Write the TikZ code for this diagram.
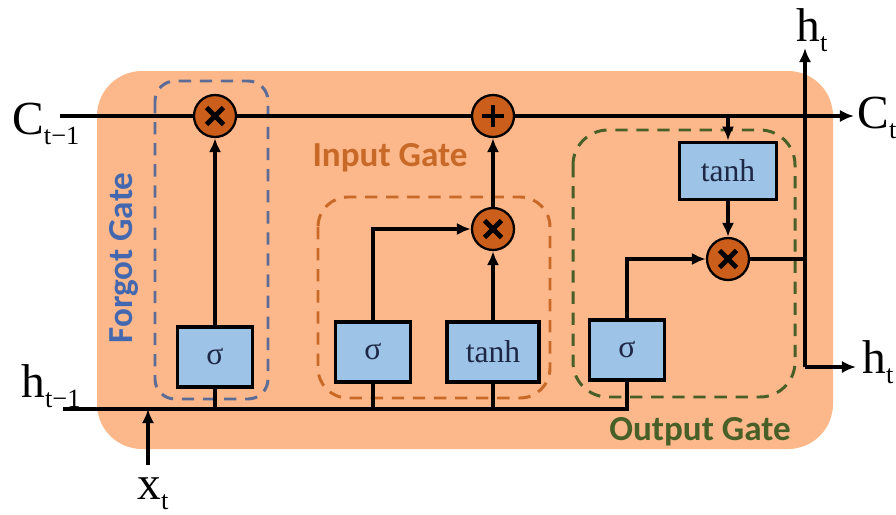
\documentclass[tikz,border=0pt]{standalone}
\usepackage{fontspec}
\setmainfont{Liberation Serif}
\newfontfamily\gatefont{Carlito}
\usetikzlibrary{arrows.meta}
\definecolor{bgorange}{RGB}{252,184,138}
\definecolor{opfill}{RGB}{202,94,26}
\definecolor{boxblue}{RGB}{157,195,230}
\definecolor{boxtext}{RGB}{30,40,70}
\definecolor{fgblue}{RGB}{68,104,176}
\definecolor{fgdash}{RGB}{92,108,150}
\definecolor{ingate}{RGB}{200,105,40}
\definecolor{outgate}{RGB}{72,96,40}
\newcommand{\lbl}[2]{#1\raisebox{-0.22em}{\fontsize{15}{15}\selectfont #2}}
\begin{document}
\begin{tikzpicture}[x=0.02cm,y=-0.02cm,
  conn/.style={line width=2pt, black},
  arr/.style={conn, -{Latex[length=8pt,width=7pt]}},
  gatebox/.style={draw=black, line width=2.2pt, fill=boxblue, text=boxtext,
    minimum width=1.5cm, minimum height=1.2cm, inner sep=0pt,
    font=\fontsize{18}{18}\selectfont},
  opcircle/.style={circle, draw=black, line width=1.3pt, fill=opfill,
    minimum size=0.84cm, inner sep=0pt},
  mult/.style={opcircle, path picture={
    \draw[line width=2.8pt, black] (path picture bounding box.center) ++(-0.17cm,-0.17cm) -- ++(0.34cm,0.34cm);
    \draw[line width=2.8pt, black] (path picture bounding box.center) ++(-0.17cm,0.17cm) -- ++(0.34cm,-0.34cm);}},
  addop/.style={opcircle, path picture={
    \draw[line width=2.8pt, black] (path picture bounding box.center) ++(-0.22cm,0) -- ++(0.44cm,0);
    \draw[line width=2.8pt, black] (path picture bounding box.center) ++(0,-0.22cm) -- ++(0,0.44cm);}},
  gatedash/.style={dashed, line width=1.7pt, dash pattern=on 7pt off 5pt},
  biglabel/.style={font=\fontsize{27}{27}\selectfont, inner sep=0pt, anchor=base west},
  gatelabel/.style={font=\gatefont\bfseries\fontsize{20}{20}\selectfont, inner sep=0pt}
]
\useasboundingbox[fill=white] (0,0) rectangle (896,514);
% cell background
\fill[bgorange, rounded corners=0.9cm] (97,71) rectangle (833,449);
% gate frames
\draw[gatedash, fgdash, rounded corners=0.4cm] (155,81) rectangle (268,399);
\draw[gatedash, ingate, rounded corners=0.6cm] (318,197) rectangle (550,398);
\draw[gatedash, outgate, rounded corners=0.7cm] (573,130) rectangle (795,397);
% gate labels
\node[gatelabel, text=fgblue, rotate=90] (fglbl) at (124,258) {Forgot Gate};
\node[gatelabel, text=ingate] (iglbl) at (390,158) {Input Gate};
\node[gatelabel, text=outgate] (oglbl) at (700,432) {Output Gate};
% boxes
\node[gatebox] (fs) at (215,357) {σ};
\node[gatebox] (is) at (373,352) {σ};
\node[gatebox, minimum width=1.84cm] (it) at (493,352) {tanh};
\node[gatebox, minimum width=1.94cm, minimum height=1.14cm] (ot) at (728,171) {tanh};
\node[gatebox] (os) at (627,350) {σ};
% operators
\node[mult] (fx) at (215,116) {};
\node[addop] (plus) at (493,116) {};
\node[mult] (ix) at (493,229) {};
\node[mult] (ox) at (728,259) {};
% coordinates
\coordinate (cin) at (60,116);
\coordinate (cout) at (854,116);
\coordinate (ctap) at (728,116);
\coordinate (hin) at (63,409);
\coordinate (hend) at (627,409);
\coordinate (xbot) at (148,465);
\coordinate (xtop) at (148,409);
\coordinate (hv) at (805,259);
\coordinate (htop) at (805,48);
\coordinate (hcorner) at (805,367);
\coordinate (hright) at (856,367);
% cell state line
\draw[conn] (cin) -- (fx.west);
\draw[conn] (fx.east) -- (plus.west);
\draw[arr] (plus.east) -- (cout);
\draw[arr] (ctap) -- (ot.north);
% hidden input line
\draw[conn] (hin) -- (hend) -- (os.south);
\draw[arr] (xbot) -- (xtop);
% forget gate
\draw[conn] (fs.south |- hin) -- (fs.south);
\draw[arr] (fs.north) -- (fx.south);
% input gate
\draw[conn] (is.south |- hin) -- (is.south);
\draw[conn] (it.south |- hin) -- (it.south);
\draw[arr] (is.north) |- (ix.west);
\draw[arr] (it.north) -- (ix.south);
\draw[arr] (ix.north) -- (plus.south);
% output gate
\draw[arr] (ot.south) -- (ox.north);
\draw[arr] (os.north) |- (ox.west);
\draw[conn] (ox.east) -- (hv);
\draw[arr] (hcorner) -- (htop);
\draw[arr] (hcorner) -- (hright);
% outer labels
\node[biglabel] (lc) at (12,134) {\lbl{C}{t−1}};
\node[biglabel] (lh) at (21,397) {\lbl{h}{t−1}};
\node[biglabel] (lx) at (137,499) {\lbl{x}{t}};
\node[biglabel] (lht) at (796,41) {\lbl{h}{t}};
\node[biglabel] (lct) at (857,128) {\lbl{C}{t}};
\node[biglabel] (lhr) at (862,373) {\lbl{h}{t}};
\end{tikzpicture}
\end{document}
